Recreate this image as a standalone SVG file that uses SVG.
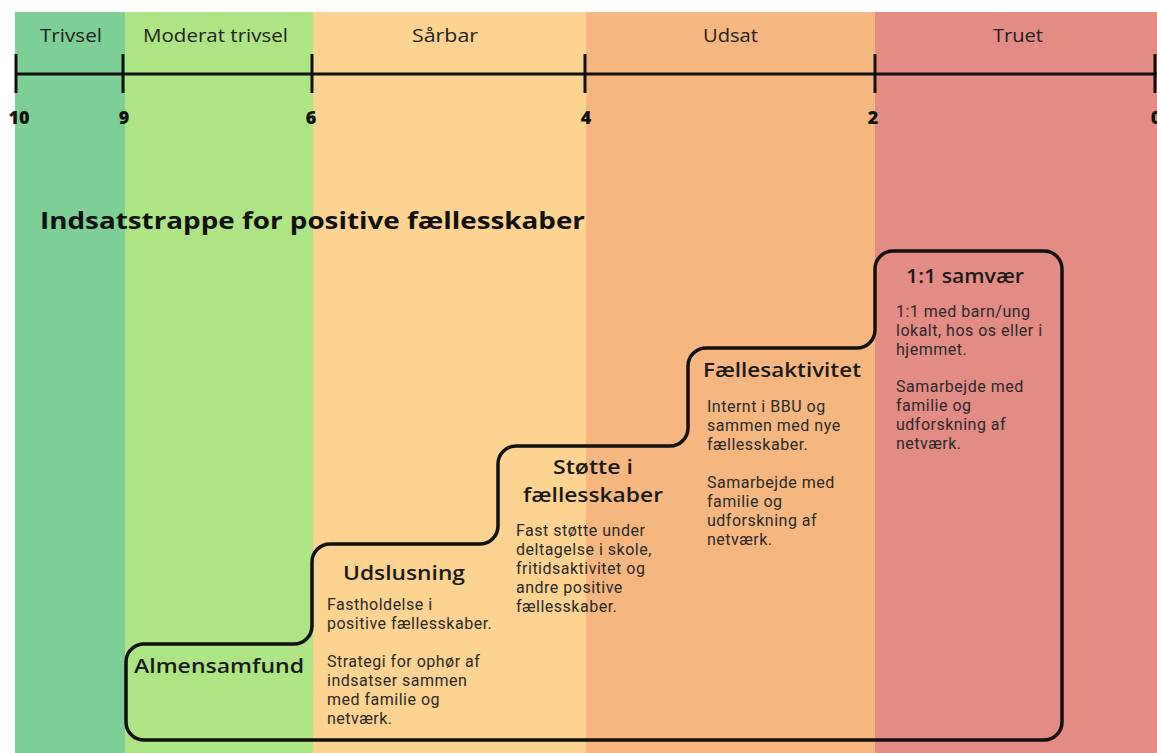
<svg xmlns="http://www.w3.org/2000/svg" width="1157" height="753" viewBox="0 0 1157 753">
<style>
.band-label{font-family:"Open Sans","Liberation Sans",sans-serif;font-size:18px;fill:#222}
.num{font-family:"Open Sans","Liberation Sans",sans-serif;font-size:18px;font-weight:800;fill:#111;text-anchor:middle}
.title{font-family:"Open Sans","Liberation Sans",sans-serif;font-size:24px;font-weight:700;fill:#111}
.head{font-family:"Open Sans","Liberation Sans",sans-serif;font-size:20px;font-weight:600;fill:#1a1a1a}
.body{font-family:Roboto,"Liberation Sans",sans-serif;font-size:16px;letter-spacing:0.5px;fill:#2a2a2a}
.axis{stroke:#111;stroke-width:3;fill:none}
.stair{stroke:#111;stroke-width:3.5;fill:none;stroke-linejoin:round}
</style>
<rect width="1157" height="753" fill="#ffffff"/>
<g id="bands">
<rect x="15" y="12" width="110" height="741" fill="#7ecf95"/>
<rect x="125" y="12" width="188" height="741" fill="#ade585"/>
<rect x="313" y="12" width="273" height="741" fill="#fcd390"/>
<rect x="586" y="12" width="289" height="741" fill="#f5b77f"/>
<rect x="875" y="12" width="282" height="741" fill="#e28c84"/>
<text class="band-label" x="40" y="42" textLength="62" lengthAdjust="spacingAndGlyphs">Trivsel</text>
<text class="band-label" x="143" y="42" textLength="145" lengthAdjust="spacingAndGlyphs">Moderat trivsel</text>
<text class="band-label" x="412" y="42" textLength="66" lengthAdjust="spacingAndGlyphs">Sårbar</text>
<text class="band-label" x="703" y="42" textLength="55" lengthAdjust="spacingAndGlyphs">Udsat</text>
<text class="band-label" x="993" y="42" textLength="50" lengthAdjust="spacingAndGlyphs">Truet</text>
</g>
<g id="axis">
<line class="axis" x1="16" y1="74" x2="1157" y2="74"/>
<line class="axis" x1="16" y1="54" x2="16" y2="93"/>
<line class="axis" x1="123" y1="54" x2="123" y2="93"/>
<line class="axis" x1="312" y1="54" x2="312" y2="93"/>
<line class="axis" x1="585" y1="54" x2="585" y2="93"/>
<line class="axis" x1="875" y1="54" x2="875" y2="93"/>
<line class="axis" x1="1155" y1="54" x2="1155" y2="93"/>
<text class="num" x="19" y="124">10</text>
<text class="num" x="124" y="124">9</text>
<text class="num" x="311" y="124">6</text>
<text class="num" x="586" y="124">4</text>
<text class="num" x="873" y="124">2</text>
<text class="num" x="1156" y="124">0</text>
</g>
<text class="title" x="40" y="229" textLength="545" lengthAdjust="spacingAndGlyphs">Indsatstrappe for positive fællesskaber</text>
<g id="connectors">
<path class="stair" d="M126,722 V662 A18,18 0 0 1 144,644 H294 A18,18 0 0 0 312,626 V562 A18,18 0 0 1 330,544 H480 A18,18 0 0 0 498,526 V464 A18,18 0 0 1 516,446 H670 A18,18 0 0 0 688,428 V366 A18,18 0 0 1 706,348 H857 A18,18 0 0 0 875,330 V269 A18,18 0 0 1 893,251 H1044 A18,18 0 0 1 1062,269 V722 A18,18 0 0 1 1044,740 H144 A18,18 0 0 1 126,722 Z"/>
</g>
<g id="almensamfund">
<text class="head" x="134" y="673" textLength="170" lengthAdjust="spacingAndGlyphs">Almensamfund</text>
</g>
<g id="udslusning">
<text class="head" x="343" y="580" textLength="122" lengthAdjust="spacingAndGlyphs">Udslusning</text>
<text class="body" x="327" y="610">Fastholdelse i</text>
<text class="body" x="327" y="629">positive fællesskaber.</text>
<text class="body" x="327" y="667">Strategi for ophør af</text>
<text class="body" x="327" y="686">indsatser sammen</text>
<text class="body" x="327" y="705">med familie og</text>
<text class="body" x="327" y="724">netværk.</text>
</g>
<g id="stoette">
<text class="head" x="553" y="474" textLength="80" lengthAdjust="spacingAndGlyphs">Støtte i</text>
<text class="head" x="523" y="502" textLength="140" lengthAdjust="spacingAndGlyphs">fællesskaber</text>
<text class="body" x="516" y="536">Fast støtte under</text>
<text class="body" x="516" y="555">deltagelse i skole,</text>
<text class="body" x="516" y="574">fritidsaktivitet og</text>
<text class="body" x="516" y="593">andre positive</text>
<text class="body" x="516" y="612">fællesskaber.</text>
</g>
<g id="faellesaktivitet">
<text class="head" x="703" y="377" textLength="158" lengthAdjust="spacingAndGlyphs">Fællesaktivitet</text>
<text class="body" x="707" y="412">Internt i BBU og</text>
<text class="body" x="707" y="431">sammen med nye</text>
<text class="body" x="707" y="450">fællesskaber.</text>
<text class="body" x="707" y="488">Samarbejde med</text>
<text class="body" x="707" y="507">familie og</text>
<text class="body" x="707" y="526">udforskning af</text>
<text class="body" x="707" y="545">netværk.</text>
</g>
<g id="samvaer">
<text class="head" x="906" y="283" textLength="118" lengthAdjust="spacingAndGlyphs">1:1 samvær</text>
<text class="body" x="896" y="317">1:1 med barn/ung</text>
<text class="body" x="896" y="336">lokalt, hos os eller i</text>
<text class="body" x="896" y="355">hjemmet.</text>
<text class="body" x="896" y="392">Samarbejde med</text>
<text class="body" x="896" y="411">familie og</text>
<text class="body" x="896" y="430">udforskning af</text>
<text class="body" x="896" y="449">netværk.</text>
</g>
</svg>
